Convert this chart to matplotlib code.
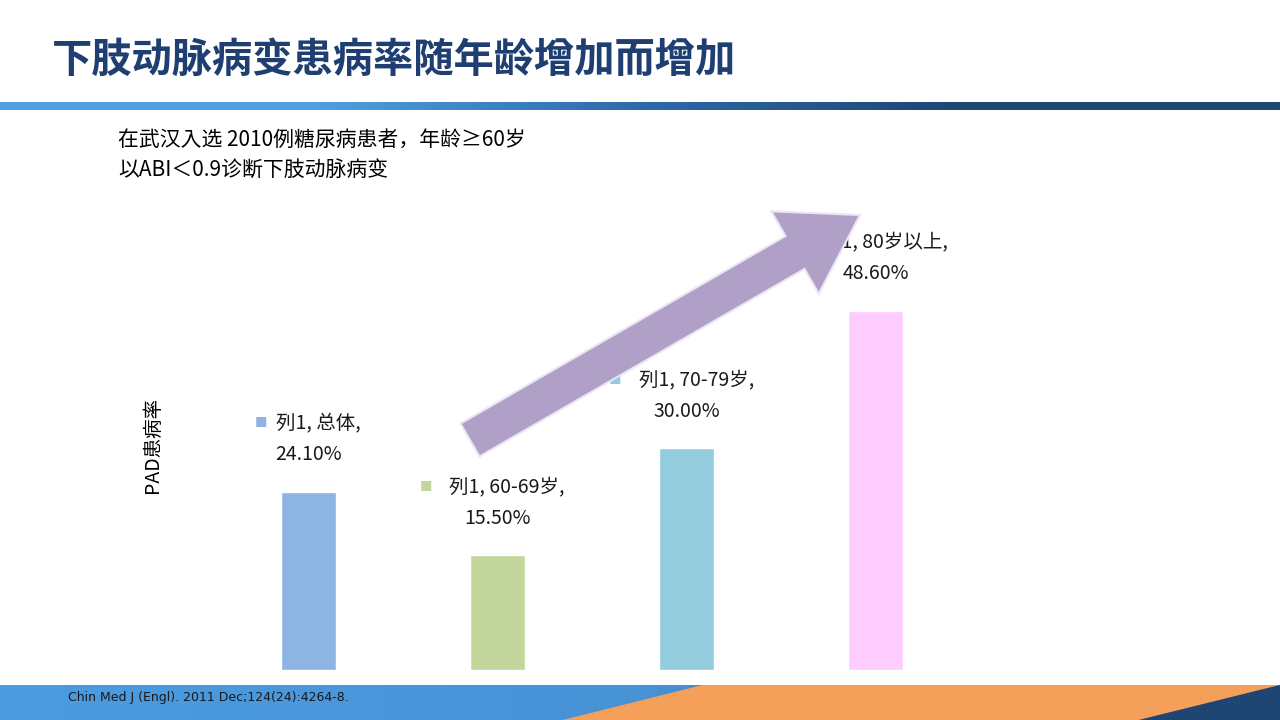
import numpy as np
import matplotlib.pyplot as plt
from matplotlib.patches import Polygon, FancyArrow
from matplotlib.colors import LinearSegmentedColormap

plt.rcParams["font.family"] = ["Noto Sans CJK SC", "Noto Sans CJK JP", "DejaVu Sans"]

### ------------------------------ Data ------------------------------ ###

categories = ["总体", "60-69岁", "70-79岁", "80岁以上"]
values = [24.10, 15.50, 30.00, 48.60]
bar_colors = ["#8eb4e3", "#c3d69b", "#93cddd", "#ffccff"]
series_name = "列1"

### ------------------------------ Figure ------------------------------ ###

fig = plt.figure(figsize=(12.8, 7.2), dpi=100)
W, H = 1280, 720
grad = np.linspace(0, 1, 256).reshape(1, -1)

# header bar gradient
cmap = LinearSegmentedColormap.from_list("hb", ["#4f9ee0", "#4f9ee0", "#2e6aa8", "#1f4573", "#1f4573"])
hax = fig.add_axes([0, 1 - 110 / H, 1, 8 / H])
hax.imshow(grad, aspect="auto", cmap=cmap)
hax.axis("off")

# footer
fax = fig.add_axes([0, 0, 1, 35 / H])
fmap = LinearSegmentedColormap.from_list("fb", ["#4c9ce0", "#4892d6", "#2f6aa8"])
fax.imshow(grad, aspect="auto", cmap=fmap, extent=[0, 1280, 0, 35])
fax.add_patch(Polygon([(703, 35), (1280, 35), (1280, 0), (563, 0)], closed=True, color="#f5a05a"))
fax.add_patch(Polygon([(1280, 35), (1280, 0), (1139, 0)], closed=True, color="#1f4573"))
fax.set_xlim(0, 1280)
fax.set_ylim(0, 35)
fax.axis("off")
fig.text(68 / W, 1 - 697 / H, "Chin Med J (Engl). 2011 Dec;124(24):4264-8.", fontsize=9,
         color="#1a1a1a", va="center", family="Liberation Sans Narrow")

# title and notes
fig.text(52 / W, 1 - 60 / H, "下肢动脉病变患病率随年龄增加而增加", fontsize=29, weight="bold",
         color="#1f3f73", va="center")
fig.text(118 / W, 1 - 140 / H, "在武汉入选 2010例糖尿病患者，年龄≥60岁", fontsize=15, va="center")
fig.text(118 / W, 1 - 170 / H, "以ABI＜0.9诊断下肢动脉病变", fontsize=15, va="center")

### ------------------------------ Chart ------------------------------ ###

ax = fig.add_axes([214 / W, 50 / H, 756 / W, 470 / H])
x = np.arange(len(values))
ax.bar(x, values, width=0.29, color=bar_colors, edgecolor="white", linewidth=1)
ax.set_xlim(-0.5, 3.5)
ax.set_ylim(0, 470 / 7.39)
ax.axis("off")

for xi, v, c, cat in zip(x, values, bar_colors, categories):
    label = f"{series_name}, {cat},"
    half = len(label) * 4.2  # rough half-width in points
    ax.annotate(label, (xi, v + 9.2), xytext=(7, 0), textcoords="offset points",
                fontsize=14, ha="center", va="center", color="#1a1a1a")
    ax.annotate("■", (xi, v + 9.2), xytext=(7 - half - 12, 0), textcoords="offset points",
                fontsize=9, ha="center", va="center", color=c)
    ax.text(xi, v + 5, f"{v:.2f}%", fontsize=14, ha="center", va="center", color="#1a1a1a")

fig.text(152 / W, 1 - 445 / H, "PAD患病率", fontsize=14, rotation=90, ha="center", va="center")

# trend arrow in pixel coordinates
oax = fig.add_axes([0, 0, 1, 1])
oax.set_xlim(0, W)
oax.set_ylim(H, 0)
oax.axis("off")
oax.add_patch(FancyArrow(470, 440, 390, -225, width=38, head_width=95, head_length=75,
                         length_includes_head=True, facecolor="#b0a0c8",
                         edgecolor="#ebe6f3", linewidth=1.5))

fig.savefig("out.png", dpi=100)
